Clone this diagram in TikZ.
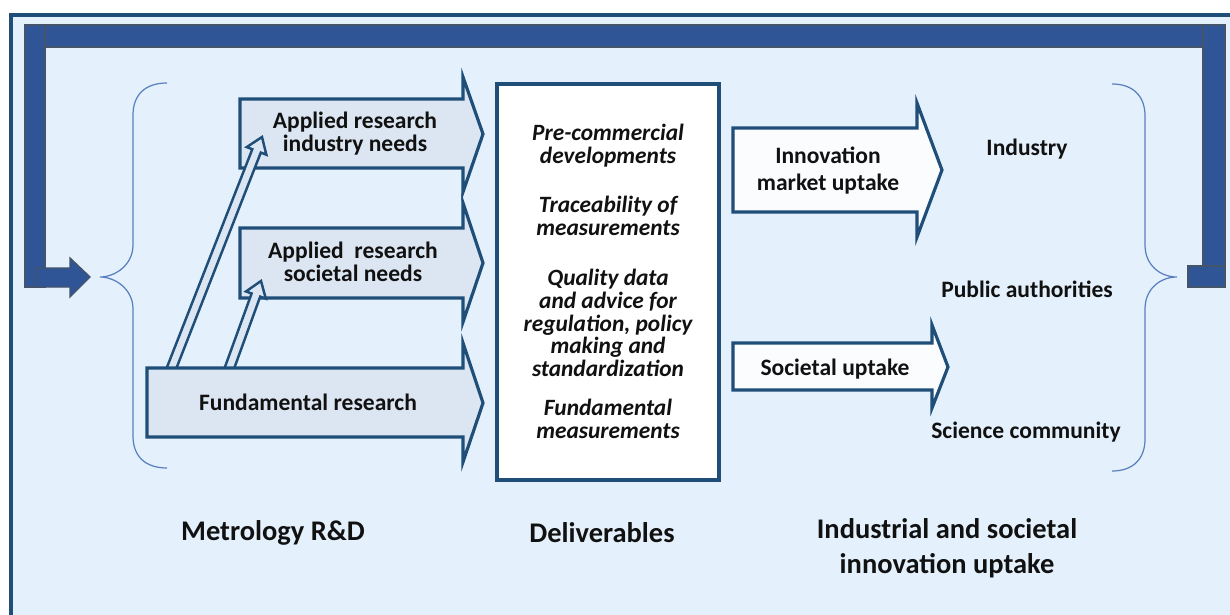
\documentclass[tikz,border=0pt]{standalone}
\usepackage{fontspec}
\setmainfont{Carlito}
\usetikzlibrary{calc}
\definecolor{bg}{HTML}{E4F1FC}
\definecolor{frame}{HTML}{1F4E79}
\definecolor{fb}{HTML}{2F5597}
\definecolor{fbline}{HTML}{44546A}
\definecolor{appfill}{HTML}{DCE6F2}
\definecolor{upfill}{HTML}{FAFCFE}
\definecolor{bracecol}{HTML}{5A7FBF}
\definecolor{txt}{HTML}{111111}
\newcommand\hollowarr[2]{%
  \path (#1) coordinate (hA) (#2) coordinate (hB);
  \coordinate (hH) at ($(hB)!8.5pt!(hA)$);
  \draw[hollow] ($(hA)!2.6pt!90:(hB)$) -- ($(hH)!2.6pt!-90:(hA)$) -- ($(hH)!6pt!-90:(hA)$) -- (hB) -- ($(hH)!6pt!90:(hA)$) -- ($(hH)!2.6pt!90:(hA)$) -- ($(hA)!2.6pt!-90:(hB)$) -- cycle;}
\begin{document}
\begin{tikzpicture}[x=0.02cm,y=-0.02cm,
  blockarrow/.style={draw=frame, line width=1.8pt, line join=miter, fill=appfill},
  uparrow/.style={blockarrow, fill=upfill},
  lbl/.style={font=\bfseries\fontsize{13.4}{13}\selectfont, text=txt, align=center, inner sep=0pt},
  ulbl/.style={lbl, font=\bfseries\fontsize{13.4}{15.3}\selectfont},
  dlbl/.style={lbl, font=\bfseries\itshape\fontsize{13.3}{13}\selectfont},
  biglbl/.style={lbl, font=\bfseries\fontsize{16.2}{19.8}\selectfont},
  fbshape/.style={fill=fb, draw=fbline, line width=0.8pt, line join=miter},
  bracestyle/.style={draw=bracecol, line width=0.7pt},
  hollow/.style={fill=appfill, draw=frame, line width=1.4pt, line join=miter}
]
\useasboundingbox (0,0) rectangle (1230,615);
\begin{scope}
\clip (0,0) rectangle (1230,615);
\fill[white] (0,0) rectangle (1230,615);
\filldraw[fill=bg, draw=frame, line width=2.3pt] (11,15) rectangle (1245,630);
\end{scope}

% feedback arrow
\filldraw[fbshape] (25,25) rectangle (45,287);
\filldraw[fbshape] (1203,25) rectangle (1225,287);
\filldraw[fbshape] (45,25) rectangle (1203,47);
\filldraw[fbshape] (1188,266) rectangle (1225,287);
\filldraw[fbshape] (36,268) -- (70,268) -- (70,258) -- (90,277) -- (70,297) -- (70,287) -- (36,287) -- cycle;

% braces
\draw[bracestyle] (167,83) .. controls (145,83) and (133,95) .. (133,115) -- (133,245)
  .. controls (133,265) and (115,277) .. (100,277)
  .. controls (115,277) and (133,289) .. (133,309) -- (133,436)
  .. controls (133,456) and (145,468) .. (167,468);
\draw[bracestyle] (1112,84) .. controls (1133,84) and (1145,96) .. (1145,116) -- (1145,245)
  .. controls (1145,265) and (1160,277) .. (1177,277)
  .. controls (1160,277) and (1145,289) .. (1145,309) -- (1145,439)
  .. controls (1145,459) and (1133,471) .. (1112,471);

% applied research arrows
\filldraw[blockarrow] (240,99) -- (463,99) -- (463,77) -- (483,134) -- (463,192) -- (463,168) -- (240,168) -- cycle;
\node[lbl] (appind) at (355,134) {Applied research\\industry needs};
\filldraw[blockarrow] (240,228) -- (463,228) -- (463,203) -- (483,263) -- (463,322) -- (463,298) -- (240,298) -- cycle;
\node[lbl] (appsoc) at (353,262) {Applied~ research\\societal needs};

% connectors from fundamental research
\coordinate (f1) at (170,372);
\coordinate (a1) at (262,137);
\coordinate (f2) at (228,372);
\coordinate (a2) at (261,281);
\hollowarr{f1}{a1}
\hollowarr{f2}{a2}

% fundamental research arrow
\filldraw[blockarrow] (147,368) -- (463,368) -- (463,343) -- (483,403) -- (463,462) -- (463,437) -- (147,437) -- cycle;
\node[lbl, anchor=base] (fund) at (308,410) {Fundamental research};

% deliverables box
\node[draw=frame, line width=2.2pt, fill=white, minimum width=4.44cm, minimum height=7.92cm, inner sep=0pt] (deliv) at (608,282) {};
\node[dlbl] (d1) at (608,146) {Pre-commercial\\developments};
\node[dlbl] (d2) at (608,216) {Traceability of\\measurements};
\node[dlbl] (d3) at (608,323) {Quality data\\and advice for\\regulation, policy\\making and\\standardization};
\node[dlbl] (d4) at (608,419) {Fundamental\\measurements};

% uptake arrows
\filldraw[uparrow] (733,128) -- (917,128) -- (917,103) -- (942,170) -- (917,237) -- (917,212) -- (733,212) -- cycle;
\node[ulbl] (innov) at (828,171) {Innovation\\market uptake};
\filldraw[uparrow] (733,343) -- (932,343) -- (932,325) -- (948,367) -- (932,408) -- (932,390) -- (733,390) -- cycle;
\node[lbl, anchor=base] (socup) at (835,375) {Societal uptake};

% right labels
\node[lbl, anchor=base] (industry) at (1027,155) {Industry};
\node[lbl, anchor=base] (public) at (1027,297) {Public authorities};
\node[lbl, anchor=base] (science) at (1026,438) {Science community};

% bottom labels
\node[biglbl, anchor=base] (metro) at (273,540) {Metrology R\&D};
\node[biglbl, anchor=base] (delivlbl) at (602,542) {Deliverables};
\node[biglbl] (uptake) at (947,548) {Industrial and societal\\innovation uptake};
\end{tikzpicture}
\end{document}
